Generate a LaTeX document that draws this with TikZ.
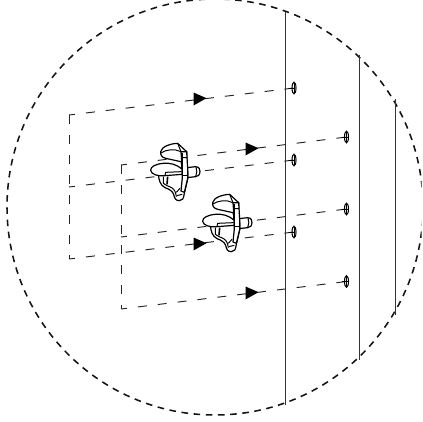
\documentclass[tikz,border=0pt]{standalone}
\tikzset{
  x=1pt,y=-1pt,
  panel/.style={line width=1pt,black!80},
  rim/.style={line width=1.55pt,dash pattern=on 6.6pt off 5.6pt,black!92},
  guide/.style={line width=.95pt,dash pattern=on 9pt off 11pt,dash phase=3pt,black!85},
  side/.style={line width=.95pt,dash pattern=on 9pt off 11pt,black!85},
  part/.style={line width=1.2pt,fill=white,line join=round},
  thin part/.style={line width=1pt},
  hole/.pic={\draw[line width=1.05pt] (0,0) ellipse (2 and 5.8);
             \draw[line width=.9pt] (-5,0)--(1,0) (0,-5)--(0,5);},
  tip/.pic={\fill (-6.5,-6.5)--(6.5,-.8)--(-6.5,6.5)--cycle;},
  support/.pic={
    \begin{scope}[x=.3333pt,y=-.3333pt]
      % pin
      \draw[part] (125,98)--(152,95) .. controls (162,96) and (166,102) .. (165,110) .. controls (164,120) and (160,124) .. (152,125)--(125,128)--cycle;
      \draw[thin part] (153,96) .. controls (157,105) and (156,116) .. (152,125);
      % lower hook
      \draw[part] (40,118) .. controls (42,135) and (45,150) .. (60,158) .. controls (72,162) and (82,168) .. (86,178) .. controls (88,190) and (92,197) .. (103,197) .. controls (112,197) and (116,190) .. (117,180)--(128,132)--(128,110)--cycle;
      \draw[thin part] (55,125)--(55,145) .. controls (60,152) and (70,152) .. (80,158) .. controls (90,165) and (92,172) .. (94,185);
      \draw[line width=1.6pt] (68,125)--(66,148);
      \draw[thin part] (105,160)--(94,172) (95,182)--(112,178);
      % upper half disc
      \draw[part] (108,80)--(62,70) .. controls (50,67) and (46,60) .. (47,50) .. controls (50,35) and (75,26) .. (98,25)--(125,50)--(125,80)--cycle;
      \draw[thin part] (48,54) .. controls (62,44) and (88,40) .. (108,50);
      \draw[thin part] (98,25)--(108,50);
      % lower disc
      \draw[part] (112,103) .. controls (95,88) and (75,83) .. (55,85) .. controls (32,87) and (16,95) .. (17,106) .. controls (18,118) and (40,125) .. (60,122)--(112,118)--cycle;
      % plate
      \draw[part] (108,50)--(125,50)--(128,100)--(128,130)--(118,172)--(108,168)--(112,128)--(112,103)--cycle;
      \draw[line width=1.7pt] (112,55)--(112,100);
      \draw[thin part] (108,80)--(112,103) (112,68)--(126,68);
      \draw[thin part] (60,122)--(62,112)--(110,110);
      \draw[thin part] (112,120)--(128,120);
    \end{scope}
  }
}
\begin{document}
\begin{tikzpicture}
\useasboundingbox (0,0) rectangle (423,421);
\begin{scope}
\clip (0,0) rectangle (421.6,421);
\coordinate (centre) at (215,207);
\draw[rim] (centre) circle (208);
\end{scope}
% panels
\coordinate (p1t) at (285,12);  \coordinate (p1b) at (285,405);
\coordinate (p2t) at (359,55);  \coordinate (p2b) at (359,360);
\coordinate (p3t) at (395,99);  \coordinate (p3b) at (395,315);
\draw[panel] (p1t)--(p1b);
\draw[panel] (p2t)--(p2b);
\draw[panel] (p3t)--(p3b);
% holes
\coordinate (h1) at (294,88);
\coordinate (h2) at (294,160);
\coordinate (h3) at (294,232);
\coordinate (k1) at (346.5,137);
\coordinate (k2) at (346.5,209);
\coordinate (k3) at (346.5,281.5);
% corners
\coordinate (a1) at (69,115);
\coordinate (a2) at (69,187);
\coordinate (a3) at (69,259);
\coordinate (b1) at (121,165);
\coordinate (b2) at (121,237);
\coordinate (b3) at (121,309);
% guides
\draw[side] (a1)--(a3);
\draw[side] (b1)--(b3);
\draw[guide] (a1)--(h1);
\draw[guide] (a2)--(h2);
\draw[guide] (a3)--(h3);
\draw[guide] (b1)--(k1);
\draw[guide] (b2)--(k2);
\draw[guide] (b3)--(k3);
\foreach \h in {h1,h2,h3,k1,k2,k3} \path (\h) pic {hole};
% arrows
\path (200,99) pic {tip};
\path (252,149) pic {tip};
\path (200,244) pic {tip};
\path (252,293) pic {tip};
% supports
\path (145,135) pic {support};
\path (197,186) pic {support};
\end{tikzpicture}
\end{document}
